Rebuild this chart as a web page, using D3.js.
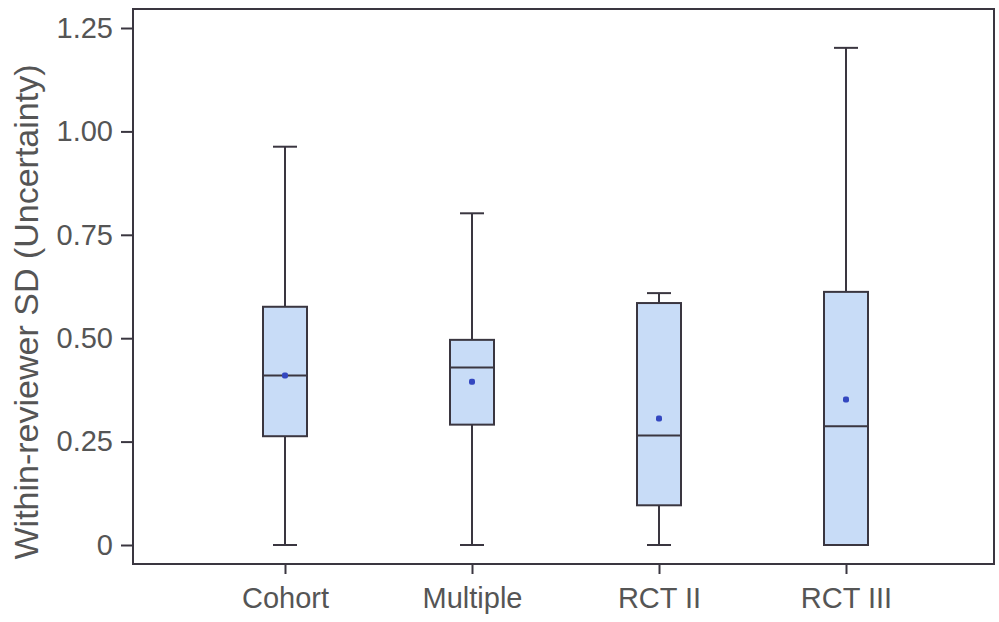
<!DOCTYPE html>
<html><head><meta charset="utf-8">
<script src="https://cdn.jsdelivr.net/npm/d3@7"></script>
<style>body{margin:0;background:#fff;} svg{display:block;}</style>
</head><body>
<script>
const categories = ["Cohort", "Multiple", "RCT II", "RCT III"];
const whiskerLow  = [0.0, 0.0, 0.0, 0.0];
const q1          = [0.263, 0.291, 0.096, 0.0];
const medians     = [0.41, 0.429, 0.265, 0.287];
const q3          = [0.576, 0.496, 0.585, 0.612];
const whiskerHigh = [0.963, 0.802, 0.609, 1.202];
const means       = [0.41, 0.395, 0.306, 0.352];
const yTicks = [0, 0.25, 0.5, 0.75, 1.0, 1.25];
const yTickLabels = ["0", "0.25", "0.50", "0.75", "1.00", "1.25"];
const yTitle = "Within-reviewer SD (Uncertainty)";

const W = 999, H = 622;
const frame = {left: 133, right: 994, top: 9, bottom: 564};
const svg = d3.select("body").append("svg").attr("width", W).attr("height", H);

const y = d3.scaleLinear().domain([0, 1.25]).range([545, 28]);
const x = d3.scalePoint().domain(categories).range([285, 846]);

const data = categories.map((c, i) => ({c, lo: whiskerLow[i], q1: q1[i], med: medians[i], q3: q3[i], hi: whiskerHigh[i], mean: means[i]}));

const lineCol = "#3a3640";
const textCol = "#555555";
const font = "'Liberation Sans', Arial, sans-serif";

// frame
svg.append("rect").attr("x", frame.left).attr("y", frame.top)
  .attr("width", frame.right - frame.left).attr("height", frame.bottom - frame.top)
  .attr("fill", "none").attr("stroke", lineCol).attr("stroke-width", 2);

// y axis ticks
const yAxis = d3.axisLeft(y).tickValues(yTicks).tickSize(12).tickPadding(8)
  .tickFormat((d, i) => yTickLabels[i]);
const gy = svg.append("g").attr("transform", `translate(${frame.left},0)`).call(yAxis);
gy.select(".domain").remove();
gy.selectAll(".tick line").attr("stroke", lineCol).attr("stroke-width", 2);
gy.selectAll(".tick text").attr("fill", textCol).style("font-family", font).style("font-size", "29px");

// x axis ticks
const xAxis = d3.axisBottom(x).tickSize(10).tickPadding(13);
const gx = svg.append("g").attr("transform", `translate(0,${frame.bottom})`).call(xAxis);
gx.select(".domain").remove();
gx.selectAll(".tick line").attr("stroke", lineCol).attr("stroke-width", 2);
gx.selectAll(".tick text").attr("fill", textCol).style("font-family", font).style("font-size", "29px");

// y title
svg.append("text").attr("transform", `translate(38,${312}) rotate(-90)`)
  .attr("text-anchor", "middle").attr("fill", textCol)
  .style("font-family", font).style("font-size", "34px").text(yTitle);

const boxW = 44, capW = 24;
const g = svg.append("g").selectAll("g").data(data).join("g");
// whiskers
g.append("line").attr("x1", d => x(d.c)).attr("x2", d => x(d.c))
  .attr("y1", d => y(d.hi)).attr("y2", d => y(d.q3)).attr("stroke", lineCol).attr("stroke-width", 2);
g.append("line").attr("x1", d => x(d.c)).attr("x2", d => x(d.c))
  .attr("y1", d => y(d.q1)).attr("y2", d => y(d.lo)).attr("stroke", lineCol).attr("stroke-width", 2);
g.append("line").attr("x1", d => x(d.c) - capW / 2).attr("x2", d => x(d.c) + capW / 2)
  .attr("y1", d => y(d.hi)).attr("y2", d => y(d.hi)).attr("stroke", lineCol).attr("stroke-width", 2);
g.append("line").attr("x1", d => x(d.c) - capW / 2).attr("x2", d => x(d.c) + capW / 2)
  .attr("y1", d => y(d.lo)).attr("y2", d => y(d.lo)).attr("stroke", lineCol).attr("stroke-width", 2);
// box
g.append("rect").attr("x", d => x(d.c) - boxW / 2).attr("width", boxW)
  .attr("y", d => y(d.q3)).attr("height", d => y(d.q1) - y(d.q3))
  .attr("fill", "#c8dcf7").attr("stroke", lineCol).attr("stroke-width", 2);
// median
g.append("line").attr("x1", d => x(d.c) - boxW / 2).attr("x2", d => x(d.c) + boxW / 2)
  .attr("y1", d => y(d.med)).attr("y2", d => y(d.med)).attr("stroke", lineCol).attr("stroke-width", 2);
// mean
g.append("rect").attr("x", d => x(d.c) - 3).attr("y", d => y(d.mean) - 3)
  .attr("width", 6).attr("height", 6).attr("rx", 2).attr("fill", "#3347c0");
</script>
</body></html>
